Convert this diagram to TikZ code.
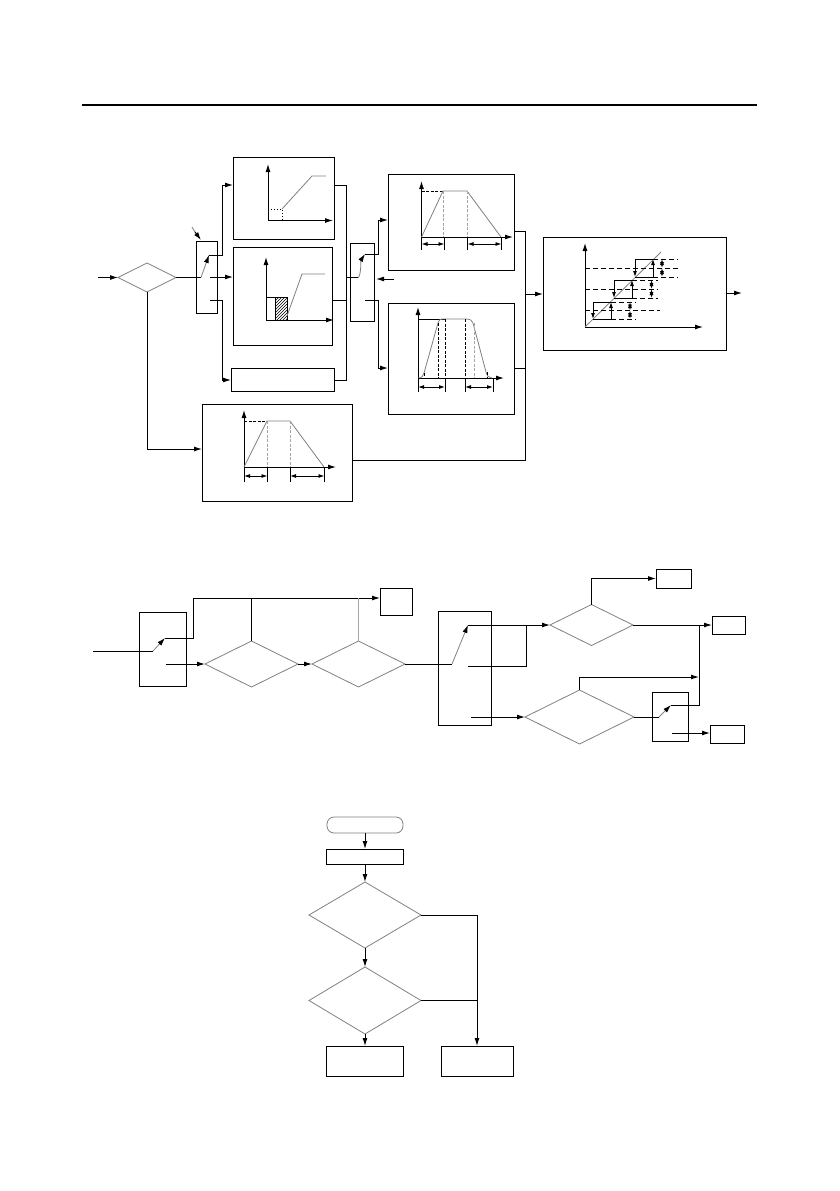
\documentclass[tikz,border=0pt]{standalone}
\usetikzlibrary{arrows.meta,shapes.geometric,patterns}
\tikzset{
    linew/.style={line width=1pt},
    blockbox/.style={draw, linew, inner sep=0pt, outer sep=0pt},
    decision/.style={draw=gray, line width=0.8pt, diamond, inner sep=0pt, outer sep=0pt},
    curve/.style={draw=gray, line width=0.8pt},
    contact/.style={gray, line width=0.8pt, -{Latex[black,length=8pt,width=5pt]}},
    dropline/.style={gray!70, line width=0.8pt, dash pattern=on 3pt off 1.5pt},
    blackdrop/.style={black, line width=1pt, dash pattern=on 3pt off 1.5pt},
    hystline/.style={black, line width=1pt, dash pattern=on 5pt off 3pt},
    smallarrows/.style={line width=0.9pt, >={Latex[length=6pt,width=4pt]}}
}
\begin{document}
\begin{tikzpicture}[x=1pt, y=-1pt, >={Latex[length=8pt,width=5pt]}, linew]
    \useasboundingbox (0,0) rectangle (839,1191);
    \draw[line width=2pt] (82,105) -- (757,105);

    % Upper diagram
    \node[decision, minimum width=58pt, minimum height=29pt] (dec1) at (147,277.5) {};
    \node[blockbox, minimum width=21pt, minimum height=72pt] (sw1) at (206.5,277) {};
    \node[blockbox, minimum width=101pt, minimum height=82pt] (boxA) at (283.5,198) {};
    \node[blockbox, minimum width=99.5pt, minimum height=98pt] (boxB) at (283,296) {};
    \node[blockbox, minimum width=103pt, minimum height=23pt] (boxC) at (282.5,379.5) {};
    \node[blockbox, minimum width=24pt, minimum height=78pt] (sw2) at (362,282) {};
    \node[blockbox, minimum width=126pt, minimum height=96pt] (boxD) at (451,222) {};
    \node[blockbox, minimum width=126pt, minimum height=111pt] (boxE) at (451,358.5) {};
    \node[blockbox, minimum width=183pt, minimum height=113pt] (boxF) at (634.5,293.5) {};
    \node[blockbox, minimum width=150pt, minimum height=97pt] (boxG) at (277,452.5) {};

    \coordinate (in1) at (98,277.5);
    \coordinate (note1) at (192,227);
    \coordinate (note2) at (195,232);
    \coordinate (note3) at (201,240);
    \coordinate (sw1pole) at (201,277.5);
    \coordinate (sw1top) at (209,255);
    \coordinate (sw1mid) at (210,277);
    \coordinate (sw1low) at (210,300);
    \coordinate (inA) at (233,185);
    \coordinate (inB) at (233,277);
    \coordinate (inC) at (231,380);
    \coordinate (outA) at (334,185);
    \coordinate (outB) at (332.5,300);
    \coordinate (outC) at (334,380);
    \coordinate (sw2pole) at (358,277.5);
    \coordinate (sw2top) at (365,254);
    \coordinate (sw2low) at (365,300);
    \coordinate (sw2ref) at (394,279);
    \coordinate (inD) at (388,220);
    \coordinate (inE) at (388,368);
    \coordinate (outD) at (514,231);
    \coordinate (outE) at (514,368);
    \coordinate (outG) at (352,460);
    \coordinate (inF) at (543,294);
    \coordinate (outF) at (742,293);
    \coordinate (inG) at (202,449);

    \draw[->] (in1) -- (dec1.west);
    \draw (dec1.east) -- (sw1pole);
    \draw[contact] (sw1pole) -- (sw1top);
    \draw[->] (sw1top) -- (222.5,255) -- (222.5,185) -- (inA);
    \draw[->] (sw1mid) -- (inB);
    \draw[->] (sw1low) -- (222.5,300) -- (222.5,380) -- (inC);
    \draw[gray, line width=0.8pt] (note1) -- (note2);
    \draw[->] (note2) -- (note3);
    \draw[->] (dec1.south) |- (inG);
    \draw (outA) -- (346.5,185) -- (346.5,380) -- (outC);
    \draw (outB) -- (346.5,300);
    \draw (346.5,277.5) -- (sw2pole);
    \draw[contact] (sw2pole) .. controls (361,277) and (361,260) .. (sw2top);
    \draw[->] (sw2top) -- (378,254) -- (378,220) -- (inD);
    \draw[->] (sw2low) -- (378,300) -- (378,368) -- (inE);
    \draw[->] (sw2ref) -- (376,279);
    \draw (outD) -- (525.5,231) -- (525.5,460) -- (outG);
    \draw (outE) -- (525.5,368);
    \draw[->] (525.5,294) -- (inF);
    \draw[->] (boxF.east |- outF) -- (outF);

    % Chart A
    \draw[->] (268,220.5) -- (268,164);
    \draw[->] (268,220.5) -- (333,220.5);
    \draw[curve] (282,209) -- (312,176) -- (326,176);
    \draw[black, line width=1pt, dotted] (268,209) -- (282,209) -- (282,221);

    % Chart B
    \draw[pattern=north east lines] (275,297) rectangle (287,320);
    \draw[->] (266,320) -- (266,257);
    \draw[->] (266,320) -- (334,320);
    \draw (266,297) -- (275,297);
    \draw[curve] (287,316) -- (302,274) -- (325,274);

    % Chart D
    \draw[->] (421.5,237) -- (421.5,181);
    \draw[->] (421.5,237) -- (513,237);
    \draw[blackdrop] (421.5,191) -- (443,191);
    \draw[curve] (421.5,237) -- (443,191) -- (467,191) -- (501,237);
    \draw[dropline] (443,191) -- (443,237);
    \draw[dropline] (467,191) -- (467,237);
    \foreach \xpos in {421.5,444.5,467.5,501.5}
        \draw[line width=0.9pt] (\xpos,237) -- (\xpos,250);
    \draw[smallarrows, <->] (421.5,244) -- (444.5,244);
    \draw[smallarrows, <->] (467.5,244) -- (501.5,244);

    % Chart E
    \draw[->] (418,378) -- (418,307);
    \draw[->] (418,378) -- (504,378);
    \draw (418,319) -- (445,319);
    \draw[curve] (418,378) .. controls (422,378) and (423,376) .. (424,373) -- (438,323) .. controls (439,320) and (440,319) .. (442,319)
        -- (466,319) .. controls (471,319) and (472,321) .. (473,323) -- (486,372) .. controls (487,376) and (489,378) .. (492,378);
    \foreach \xpos/\ypos in {424/373,438/323,445/319,465/319,487/372}
        \draw[blackdrop] (\xpos,\ypos) -- (\xpos,378);
    \draw[dropline] (474,323) -- (474,378);
    \foreach \xpos in {418,445,465,493}
        \draw[line width=0.9pt] (\xpos,378) -- (\xpos,392);
    \draw[smallarrows, <->] (418,387) -- (445,387);
    \draw[smallarrows, <->] (465,387) -- (493,387);

    % Chart G
    \draw[->] (244,467) -- (244,410);
    \draw[->] (244,467) -- (336,467);
    \draw[blackdrop] (244,421) -- (267,421);
    \draw[curve] (244,467) -- (267,421) -- (290,421) -- (324,467);
    \draw[dropline] (267,421) -- (267,467);
    \draw[dropline] (290,421) -- (290,467);
    \foreach \xpos in {244,267.5,290,324.5}
        \draw[line width=0.9pt] (\xpos,467) -- (\xpos,482);
    \draw[smallarrows, <->] (244,476) -- (267.5,476);
    \draw[smallarrows, <->] (290,476) -- (324.5,476);

    % Chart F
    \draw[->] (585,327) -- (585,243);
    \draw[->] (585,327) -- (703,327);
    \draw[curve] (585,327) -- (661,252);
    \draw[hystline] (585,310) -- (660,310);
    \draw[hystline] (611,302) -- (636,302);
    \draw[hystline] (611,319) -- (636,319);
    \draw[hystline] (585,289) -- (658,289);
    \draw[hystline] (632,280) -- (658,280);
    \draw[hystline] (632,298) -- (658,298);
    \draw[hystline] (585,268) -- (678,268);
    \draw[hystline] (653,259) -- (678,259);
    \draw[hystline] (653,277) -- (678,277);
    \foreach \xleft/\xright/\ytop/\ybot in {593/611/302/319,614/632/280/298,635/653/259/277} {
        \draw[smallarrows] (\xleft,\ybot) -- (\xright,\ybot);
        \draw[smallarrows, ->] (\xleft,\ytop) -- (\xleft,\ybot);
        \draw[smallarrows, ->] (\xright,\ybot) -- (\xright,\ytop);
        \draw[smallarrows] (\xleft,\ytop) -- (\xright,\ytop);
    }
    \foreach \xpos/\ytop/\ymid/\ybot in {630/302/310.5/319,651.5/280/289/298,662/259/268/277} {
        \draw[smallarrows, <->] (\xpos,\ytop) -- (\xpos,\ymid);
        \draw[smallarrows, <->] (\xpos,\ymid) -- (\xpos,\ybot);
    }

    % Middle diagram
    \node[blockbox, minimum width=47pt, minimum height=74pt] (sw3) at (162.5,649) {};
    \node[decision, minimum width=93pt, minimum height=46pt] (dec2) at (251.5,664) {};
    \node[decision, minimum width=93pt, minimum height=46pt] (dec3) at (358.5,664) {};
    \node[blockbox, minimum width=32pt, minimum height=27pt] (boxH) at (396,601.5) {};
    \node[blockbox, minimum width=53pt, minimum height=114pt] (sw4) at (464.5,668) {};
    \node[decision, minimum width=83pt, minimum height=41pt] (dec4) at (591.5,625) {};
    \node[decision, minimum width=109pt, minimum height=54pt] (dec5) at (579.5,717) {};
    \node[blockbox, minimum width=36pt, minimum height=49pt] (sw5) at (670,716.5) {};
    \node[blockbox, minimum width=35pt, minimum height=19pt] (boxI) at (673.5,578.5) {};
    \node[blockbox, minimum width=33pt, minimum height=18pt] (boxJ) at (728.5,625) {};
    \node[blockbox, minimum width=34pt, minimum height=18pt] (boxK) at (727,734) {};

    \coordinate (in3) at (93,651);
    \coordinate (sw3pole) at (153,651);
    \coordinate (sw3top) at (165,638);
    \coordinate (sw3low) at (166,664);
    \coordinate (sw4pole) at (452,664);
    \coordinate (sw4top) at (468,625);
    \coordinate (sw4mid) at (468,666);
    \coordinate (sw4low) at (471,717);
    \coordinate (sw5pole) at (659,717);
    \coordinate (sw5top) at (671,705);
    \coordinate (sw5low) at (672,733);
    \coordinate (bus1) at (699,677);

    \draw (in3) -- (sw3pole);
    \draw[contact] (sw3pole) -- (sw3top);
    \draw[->] (sw3top) -- (193,638) -- (193,598) -- (boxH.west |- 0,598);
    \draw[->] (sw3low) -- (dec2.west);
    \draw[->] (dec2.east) -- (dec3.west);
    \draw (dec2.north) -- (dec2.north |- 0,598);
    \draw[gray!70] (dec3.north) -- (dec3.north |- 0,598);
    \draw (dec3.east) -- (sw4pole);
    \draw[contact] (sw4pole) -- (sw4top);
    \draw[->] (sw4top) -- (dec4.west);
    \draw (sw4mid) -- (526,666) -- (526,625);
    \draw[->] (dec4.north) |- (boxI.west);
    \draw[->] (dec4.east) -- (boxJ.west);
    \draw[->] (sw4low) -- (dec5.west);
    \draw[->] (dec5.north) |- (bus1);
    \draw (dec5.east) -- (sw5pole);
    \draw[contact] (sw5pole) -- (sw5top);
    \draw (sw5top) -- (699,705) -- (699,625);
    \draw[->] (sw5low) -- (boxK.west |- sw5low);

    % Lower flowchart
    \node[draw=gray, line width=0.8pt, rounded corners=7pt, minimum width=76pt, minimum height=16pt, inner sep=0pt, outer sep=0pt] (start1) at (365,825) {};
    \node[blockbox, minimum width=77pt, minimum height=15pt] (boxL) at (365,856.5) {};
    \node[decision, minimum width=112pt, minimum height=66pt] (dec6) at (365,915) {};
    \node[decision, minimum width=112pt, minimum height=67pt] (dec7) at (365,1000.5) {};
    \node[blockbox, minimum width=77pt, minimum height=30pt] (boxM) at (365,1061) {};
    \node[blockbox, minimum width=72pt, minimum height=30pt] (boxN) at (477,1061) {};

    \draw[->] (start1.south) -- (boxL.north);
    \draw[->] (boxL.south) -- (dec6.north);
    \draw[->] (dec6.south) -- (dec7.north);
    \draw[->] (dec7.south) -- (boxM.north);
    \draw[->] (dec6.east) -| (boxN.north);
    \draw (dec7.east) -- (dec7.east -| boxN.north);
\end{tikzpicture}
\end{document}
